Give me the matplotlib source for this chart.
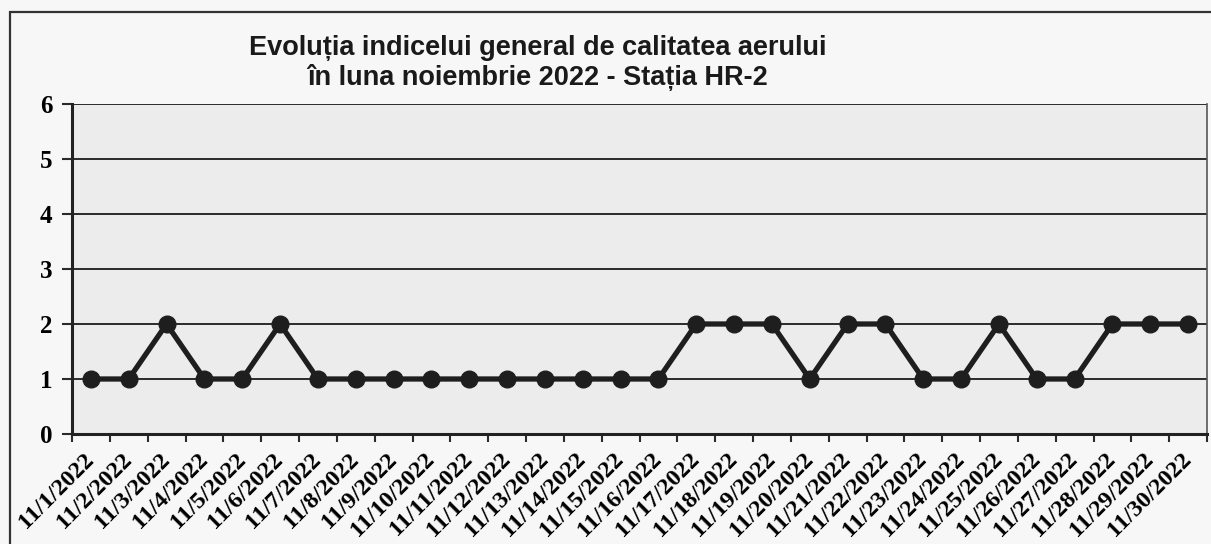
import matplotlib
matplotlib.use("Agg")
import matplotlib.pyplot as plt
from matplotlib.patches import Rectangle

dates = ["11/1/2022", "11/2/2022", "11/3/2022", "11/4/2022", "11/5/2022", "11/6/2022",
         "11/7/2022", "11/8/2022", "11/9/2022", "11/10/2022", "11/11/2022", "11/12/2022",
         "11/13/2022", "11/14/2022", "11/15/2022", "11/16/2022", "11/17/2022", "11/18/2022",
         "11/19/2022", "11/20/2022", "11/21/2022", "11/22/2022", "11/23/2022", "11/24/2022",
         "11/25/2022", "11/26/2022", "11/27/2022", "11/28/2022", "11/29/2022", "11/30/2022"]
index_values = [1, 1, 2, 1, 1, 2, 1, 1, 1, 1, 1, 1, 1, 1, 1, 1, 2, 2, 2, 1, 2, 2, 1, 1, 2, 1, 1, 2, 2, 2]
y_ticks = [0, 1, 2, 3, 4, 5, 6]
title = "Evoluția indicelui general de calitatea aerului\nîn luna noiembrie 2022 - Stația HR-2"

W, H = 1211, 544
fig = plt.figure(figsize=(W / 100, H / 100), dpi=100)
fig.patch.set_facecolor("#f7f7f7")

# outer frame
fig.patches.append(Rectangle((10 / W, -0.02), 1.2, 1 - 12 / H + 0.02, transform=fig.transFigure,
                             fill=False, edgecolor="#333333", linewidth=1.6))

ax = fig.add_axes([72 / W, 1 - 434 / H, (1207 - 72) / W, (434 - 104) / H])
ax.set_facecolor("#ececec")

x = list(range(len(dates)))
ax.plot(x, index_values, color="#1e1e1e", linewidth=3.8, marker="o", markersize=12,
        markerfacecolor="#1e1e1e", markeredgecolor="#1e1e1e", zorder=3, solid_joinstyle="miter")

ax.set_xlim(-0.5, len(dates) - 0.5)
ax.set_ylim(0, 6)
ax.set_yticks(y_ticks)
ax.set_yticklabels([str(v) for v in y_ticks], fontfamily="Liberation Serif", fontweight="bold",
                   fontsize=18)
for v in y_ticks[1:]:
    ax.axhline(v, color="#2a2a2a", linewidth=1.4, zorder=1)

ax.set_xticks([i - 0.5 for i in range(len(dates) + 1)])
ax.set_xticklabels([])
ax.set_xticks(x, minor=True)
ax.set_xticklabels(dates, minor=True, rotation=45, ha="right", va="center",
                   rotation_mode="anchor", fontfamily="Liberation Serif", fontweight="bold",
                   fontsize=17.5)
ax.tick_params(axis="x", which="minor", length=0, pad=16)
ax.tick_params(axis="x", which="major", length=6, width=1.5, color="#2a2a2a", direction="out")
ax.tick_params(axis="y", length=7, width=1.5, color="#2a2a2a", pad=7)

for s in ["left", "bottom"]:
    ax.spines[s].set_linewidth(2.2)
    ax.spines[s].set_color("#222222")
ax.spines["top"].set_visible(False)
ax.spines["right"].set_color("#555555")
ax.spines["right"].set_linewidth(1.2)

fig.text(538 / W, 1 - 63 / H, title, ha="center", va="center", fontfamily="Liberation Sans",
         fontweight="bold", fontsize=19.5, color="#1a1a1a", linespacing=1.12)

fig.savefig("out.png", dpi=100)
